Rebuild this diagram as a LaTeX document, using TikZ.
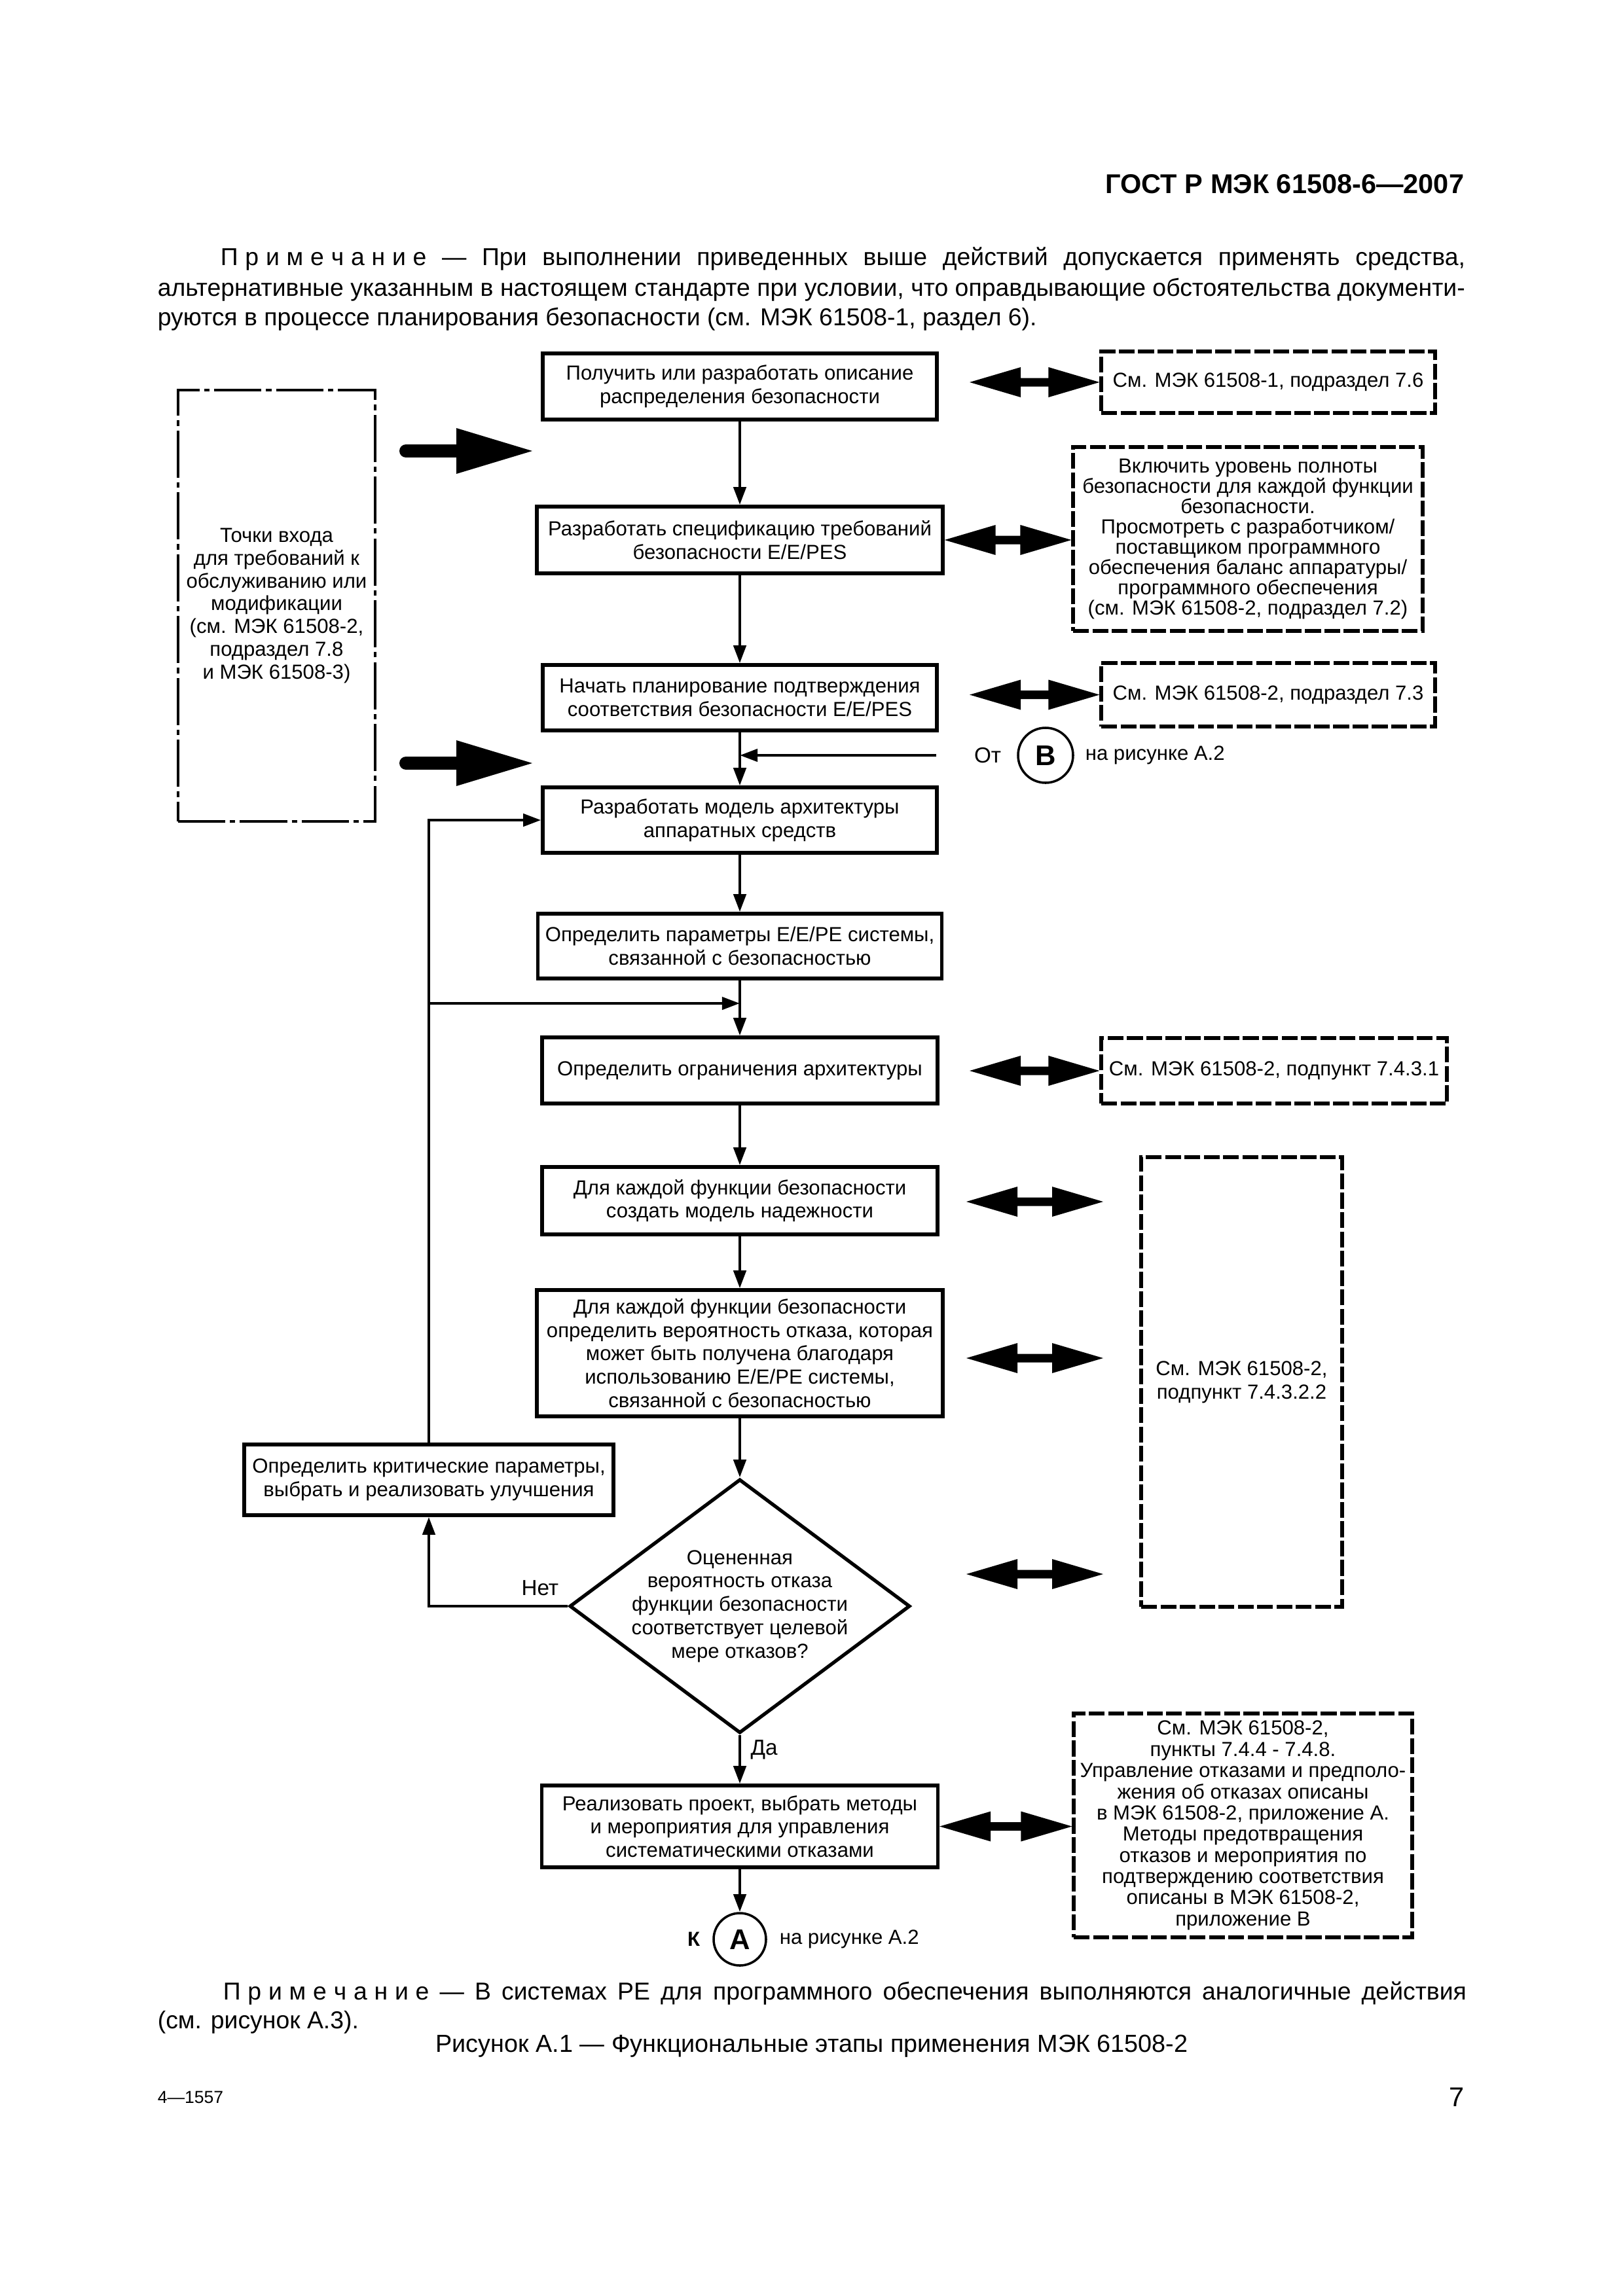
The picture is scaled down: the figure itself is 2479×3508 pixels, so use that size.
\documentclass[tikz,border=0pt]{standalone}
\usepackage{fontspec}
\setmainfont{Liberation Sans}
\usetikzlibrary{arrows.meta,calc,shapes.geometric}
\newdimen\pxu \pxu=0.0846667mm
\newcommand\lk{\kern2.6pt}
\newcommand\dblarr[2]{\fill ($(#1)$) -- ($(#1)+(78,-23)$) -- ($(#1)+(78,-6.5)$) -- ($(#2)+(-78,-6.5)$) -- ($(#2)+(-78,-23)$) -- ($(#2)$) -- ($(#2)+(-78,23)$) -- ($(#2)+(-78,6.5)$) -- ($(#1)+(78,6.5)$) -- ($(#1)+(78,23)$) -- cycle;}
\newcommand\bigarr[1]{\draw[line width=20\pxu, line cap=round] (#1) -- ++(92,0);
  \fill ($(#1)+(77,-35)$) -- ($(#1)+(193,0)$) -- ($(#1)+(77,35)$) -- cycle;}
\tikzset{
  sz/.style 2 args={minimum width=#1\pxu, minimum height=#2\pxu},
  conn/.style={line width=0.4mm, -{Triangle[length=2.3mm,width=1.6mm]}},
  plain/.style={line width=0.4mm},
  box/.style={draw, line width=0.45mm, align=center, inner sep=0pt, font=\fontsize{7.5}{8.6}\selectfont},
  refbox/.style={draw, line width=0.43mm, dash pattern=on 2.05mm off 0.45mm, align=center, inner sep=0pt, font=\fontsize{7.5}{8.6}\selectfont},
  ddbox/.style={draw, line width=0.3mm, dash pattern=on 6.1mm off 0.6mm on 0.7mm off 0.6mm, align=center, inner sep=0pt, font=\fontsize{7.5}{8.4}\selectfont},
  lbl/.style={font=\fontsize{8}{9.6}\selectfont},
  small/.style={font=\fontsize{7.5}{9}\selectfont},
  circ/.style={circle, draw, line width=0.3mm, inner sep=0pt, font=\bfseries\fontsize{10.5}{12}\selectfont},
  note/.style={font=\fontsize{9}{11}\selectfont, inner sep=0pt},
}
\begin{document}
\begin{tikzpicture}[x=\pxu, y=-\pxu]
\useasboundingbox (0,0) rectangle (2479,3508);

% header and note
\node[anchor=east, inner sep=0pt, font=\bfseries\fontsize{10}{12}\selectfont] (hdr) at (2237,281) {ГОСТ Р МЭК 61508-6—2007};
\node[note, anchor=west] (n1) at (336,396) {\makebox[1901\pxu][s]{П\lk р\lk и\lk м\lk е\lk ч\lk а\lk н\lk и\lk е — При выполнении приведенных выше действий допускается применять средства,}};
\node[note, anchor=west] (n2) at (240,443) {\makebox[1997\pxu][s]{альтернативные указанным в настоящем стандарте при условии, что оправдывающие обстоятельства документи-}};
\node[note, anchor=west] (n3) at (240,488) {руются в процессе планирования безопасности (см. МЭК 61508-1, раздел 6).};

% main column
\node[box, sz={602}{101}] (B1) at (1130,590.5) {Получить или разработать описание\\распределения безопасности};
\node[box, sz={620}{102}] (B2) at (1130,825) {Разработать спецификацию требований\\безопасности E/E/PES};
\node[box, sz={602}{100}] (B3) at (1130,1066) {Начать планирование подтверждения\\соответствия безопасности E/E/PES};
\node[box, sz={602}{100}] (B4) at (1130,1253) {Разработать модель архитектуры\\аппаратных средств};
\node[box, sz={617}{99}] (B5) at (1130,1445.5) {Определить параметры E/E/PE системы,\\связанной с безопасностью};
\node[box, sz={604}{101}] (B6) at (1130,1635.5) {Определить ограничения архитектуры};
\node[box, sz={604}{103}] (B7) at (1130,1834.5) {Для каждой функции безопасности\\создать модель надежности};
\node[box, sz={620}{193}] (B8) at (1130,2067.5) {Для каждой функции безопасности\\определить вероятность отказа, которая\\может быть получена благодаря\\использованию E/E/PE системы,\\связанной с безопасностью};
\node[diamond, draw, line width=0.45mm, inner sep=0pt, sz={520}{388}] (dia) at (1130,2454) {};
\node[align=center, inner sep=0pt, font=\fontsize{7.5}{8.6}\selectfont] (diat) at (dia) {Оцененная\\вероятность отказа\\функции безопасности\\соответствует целевой\\мере отказов?};
\node[box, sz={605}{125}] (B10) at (1130,2790.5) {Реализовать проект, выбрать методы\\и мероприятия для управления\\систематическими отказами};
\node[box, sz={564}{108}] (B11) at (655,2261) {Определить критические параметры,\\выбрать и реализовать улучшения};
\node[circ, minimum size=80\pxu] (cA) at (1130,2963) {A};
\node[small, anchor=east, inner sep=0pt, font=\bfseries\fontsize{7.5}{9}\selectfont] (kA) at (1070,2963) {К};
\node[small, anchor=west, inner sep=0pt] (nA) at (1190,2963) {на рисунке А.2};

% left entry box
\node[ddbox, sz={301}{659}] (L) at (422.5,925.5) {Точки входа\\для требований к\\обслуживанию или\\модификации\\(см. МЭК 61508-2,\\подраздел 7.8\\и МЭК 61508-3)};
\coordinate (e1) at (620,689);
\coordinate (e2) at (620,1166);
\bigarr{e1}
\bigarr{e2}

% connector B
\node[circ, minimum size=84\pxu] (cB) at (1597,1154) {B};
\node[lbl, anchor=east, inner sep=0pt] (ot) at (1530,1154) {От};
\node[small, anchor=west, inner sep=0pt] (nB) at (1657,1154) {на рисунке А.2};
\coordinate (bfree) at (1430,1154);

% right reference boxes
\node[refbox, sz={510}{94}] (R1) at (1937,584) {См. МЭК 61508-1, подраздел 7.6};
\node[refbox, sz={534}{281}, font=\fontsize{7.5}{7.45}\selectfont] (R2) at (1906,823.5) {Включить уровень полноты\\безопасности для каждой функции\\безопасности.\\Просмотреть с разработчиком/\\поставщиком программного\\обеспечения баланс аппаратуры/\\программного обеспечения\\(см. МЭК 61508-2, подраздел 7.2)};
\node[refbox, sz={510}{97}] (R3) at (1937,1061.5) {См. МЭК 61508-2, подраздел 7.3};
\node[refbox, sz={528}{100}] (R4) at (1946,1636) {См. МЭК 61508-2, подпункт 7.4.3.1};
\node[refbox, sz={307}{687}] (R5) at (1896.5,2111.5) {См. МЭК 61508-2,\\подпункт 7.4.3.2.2};
\node[refbox, sz={517}{342}, font=\fontsize{7.5}{7.8}\selectfont] (R6) at (1898.5,2789) {См. МЭК 61508-2,\\пункты 7.4.4 - 7.4.8.\\Управление отказами и предполо-\\жения об отказах описаны\\в МЭК 61508-2, приложение А.\\Методы предотвращения\\отказов и мероприятия по\\подтверждению соответствия\\описаны в МЭК 61508-2,\\приложение В};

% main connectors
\draw[conn] (B1.south) -- (B2.north);
\draw[conn] (B2.south) -- (B3.north);
\draw[conn] (B3.south) -- (B4.north);
\draw[conn] (bfree) -- (bfree -| B4.north);
\draw[conn] (B4.south) -- (B5.north);
\draw[conn] (B5.south) -- (B6.north);
\draw[conn] (B6.south) -- (B7.north);
\draw[conn] (B7.south) -- (B8.north);
\draw[conn] (B8.south) -- (dia.north);
\draw[conn] (dia.south) -- node[pos=0.3, anchor=west, lbl, xshift=1.2mm, inner sep=0pt] {Да} (B10.north);
\draw[conn] (B10.south) -- (cA.north);
\draw[conn] (dia.west) -| node[pos=0.1, above, lbl] {Нет} (B11.south);
\draw[conn] (B11.north) |- (B4.west);
\coordinate (mrg) at (1130,1533);
\draw[conn] (B11.north |- mrg) -- (mrg);

% double arrows
\coordinate (d1) at (1481,584);
\coordinate (d2r) at (R2.west |- B2.east);
\coordinate (d3) at (1481,1061.5);
\coordinate (d4) at (1481,1636);
\coordinate (d5l) at (1476,1836);
\coordinate (d5r) at (1685,1836);
\coordinate (d6l) at (1476,2075);
\coordinate (d6r) at (1685,2075);
\coordinate (d7l) at (1476,2405);
\coordinate (d7r) at (1685,2405);
\coordinate (d8r) at (R6.west |- B10.east);
\dblarr{d1}{R1.west}
\dblarr{B2.east}{d2r}
\dblarr{d3}{R3.west}
\dblarr{d4}{R4.west}
\dblarr{d5l}{d5r}
\dblarr{d6l}{d6r}
\dblarr{d7l}{d7r}
\dblarr{B10.east}{d8r}

% bottom note and caption
\node[note, anchor=west] (m1) at (340,3045) {\makebox[1899\pxu][s]{П\lk р\lk и\lk м\lk е\lk ч\lk а\lk н\lk и\lk е — В системах PE для  программного  обеспечения  выполняются  аналогичные действия}};
\node[note, anchor=west] (m2) at (240,3090) {(см. рисунок А.3).};
\node[note, font=\fontsize{9.1}{11}\selectfont] (cap) at (1240,3126) {Рисунок А.1 — Функциональные этапы применения МЭК 61508-2};
\node[anchor=west, inner sep=0pt, font=\fontsize{6.4}{8}\selectfont] (f1) at (240,3204) {4—1557};
\node[anchor=east, inner sep=0pt, font=\fontsize{10}{12}\selectfont] (f2) at (2237,3204) {7};
\end{tikzpicture}
\end{document}
